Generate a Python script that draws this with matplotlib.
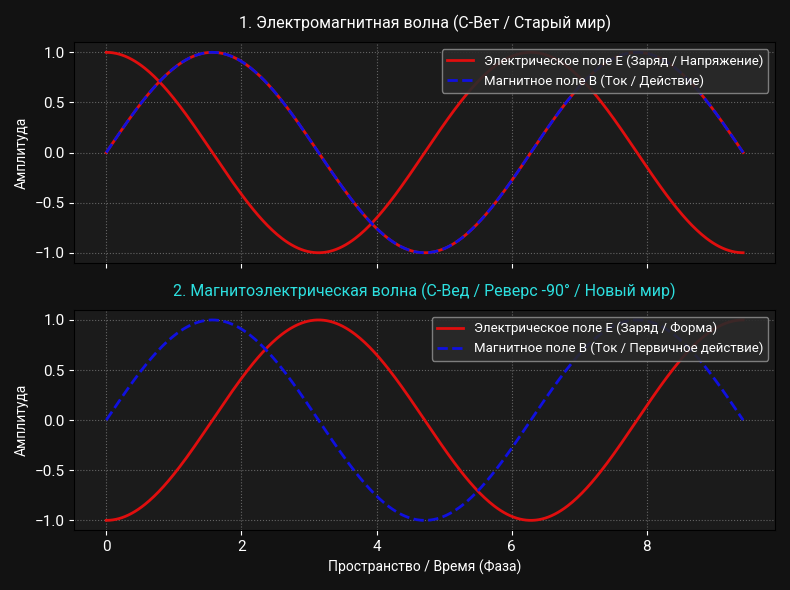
import numpy as np
import matplotlib
matplotlib.use("Agg")
import matplotlib.pyplot as plt

plt.rcParams['font.family'] = ['Roboto', 'DejaVu Sans']

x = np.linspace(0, 3 * np.pi, 400)
top_E = np.cos(x)
top_B = np.sin(x)
bot_E = -np.cos(x)
bot_B = np.sin(x)

title1 = "1. Электромагнитная волна (С-Вет / Старый мир)"
title2 = "2. Магнитоэлектрическая волна (С-Вед / Реверс -90° / Новый мир)"
leg1 = ["Электрическое поле E (Заряд / Напряжение)", "Магнитное поле B (Ток / Действие)"]
leg2 = ["Электрическое поле E (Заряд / Форма)", "Магнитное поле B (Ток / Первичное действие)"]
xlabel = "Пространство / Время (Фаза)"
ylabel = "Амплитуда"

bg = "#121212"
axbg = "#1b1b1b"
red = "#e00e0e"
blue = "#1010e0"

fig, (ax1, ax2) = plt.subplots(2, 1, figsize=(7.9, 5.9), dpi=100, sharex=True)
fig.patch.set_facecolor(bg)

for ax in (ax1, ax2):
    ax.set_facecolor(axbg)
    ax.grid(True, color="#777777", linestyle=":", linewidth=0.8, alpha=0.8)
    ax.tick_params(colors="white", labelsize=11)
    for s in ax.spines.values():
        s.set_color("#000000")
    ax.set_ylabel(ylabel, color="white", fontsize=10)

ax1.plot(x, top_B, color=red, linewidth=2)
ax1.plot(x, top_E, color=red, linewidth=2, label=leg1[0])
ax1.plot(x, top_B, color=blue, linewidth=2, linestyle="--", label=leg1[1])
ax1.set_title(title1, color="white", fontsize=11.5, pad=10)

ax2.plot(x, bot_E, color=red, linewidth=2, label=leg2[0])
ax2.plot(x, bot_B, color=blue, linewidth=2, linestyle="--", label=leg2[1])
ax2.set_title(title2, color="#2de0e0", fontsize=11.5, pad=10)
ax2.set_xlabel(xlabel, color="white", fontsize=10)

for ax in (ax1, ax2):
    lg = ax.legend(loc="upper right", fontsize=9.5, facecolor="#2a2a2a", edgecolor="#888888", framealpha=0.9)
    for t in lg.get_texts():
        t.set_color("white")

fig.tight_layout()
fig.savefig("out.png", facecolor=bg)
